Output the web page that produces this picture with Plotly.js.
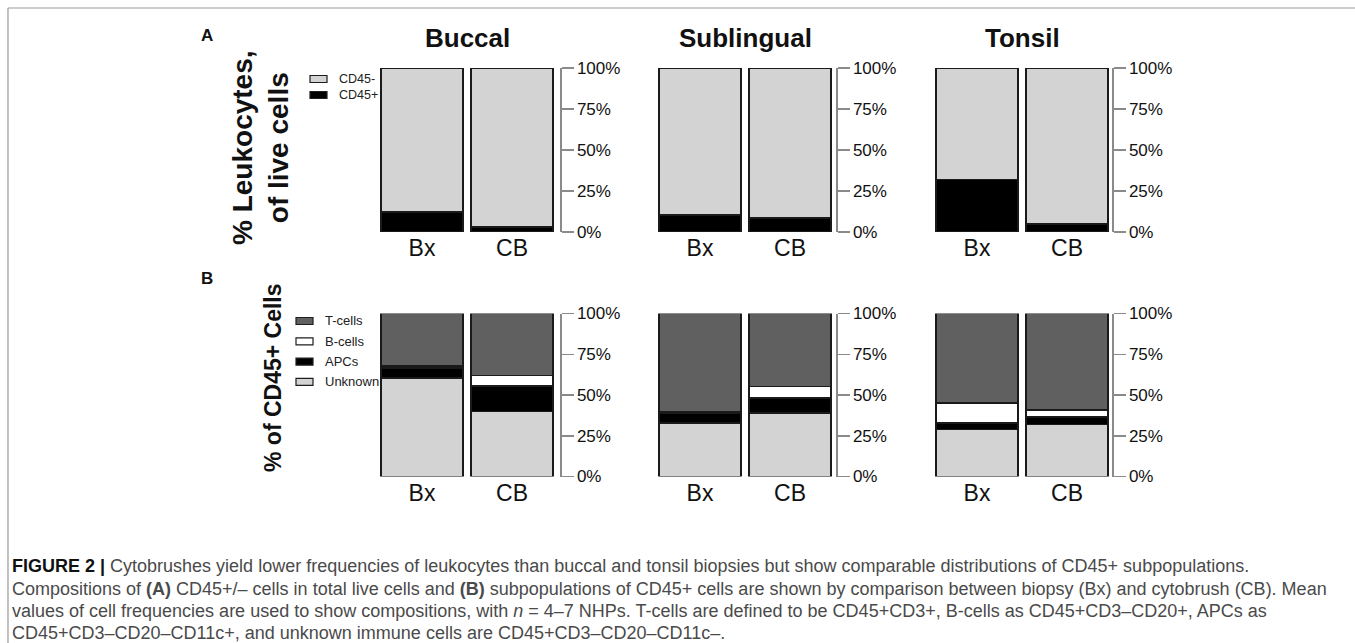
<!DOCTYPE html>
<html>
<head>
<meta charset="utf-8">
<script src="https://cdn.plot.ly/plotly-3.0.1.min.js"></script>
<style>
  html, body { margin: 0; padding: 0; background: #fff; }
  #chart { width: 1355px; height: 643px; }
</style>
</head>
<body>
<div id="chart"></div>
<script>
// ---------- data ----------
const tissues = ['Buccal', 'Sublingual', 'Tonsil'];
const sites = ['Bx', 'CB'];
const tickVals = [0, 25, 50, 75, 100];
const tickLabels = ['0%', '25%', '50%', '75%', '100%'];

// Panel A: % of live cells (per tissue: [Bx, CB])
const cd45Pos = [[12.2, 3.0], [10.6, 8.6], [32.0, 4.7]];
const cd45Neg = [[87.8, 97.0], [89.4, 91.4], [68.0, 95.3]];

// Panel B: % of CD45+ cells (per tissue: [Bx, CB])
const unknownCells = [[60.5, 39.9], [33.0, 39.1], [28.8, 31.9]];
const apcCells     = [[5.9, 15.5], [5.8, 8.9], [3.9, 4.5]];
const bCells       = [[1.3, 6.6], [1.1, 7.2], [12.5, 4.5]];
const tCells       = [[32.3, 38.0], [60.1, 44.8], [54.8, 59.1]];

const seriesA = [
  { name: 'CD45+', values: cd45Pos, color: '#000000' },
  { name: 'CD45-', values: cd45Neg, color: '#d3d3d3' }
];
const seriesB = [
  { name: 'Unknown', values: unknownCells, color: '#d3d3d3' },
  { name: 'APCs', values: apcCells, color: '#000000' },
  { name: 'B-cells', values: bCells, color: '#ffffff' },
  { name: 'T-cells', values: tCells, color: '#606060' }
];

// ---------- layout geometry (pixels) ----------
const W = 1355, H = 643;
const centers = [467, 745, 1022];
const axisOffset = [93, 91, 90];
const halfW = 90;
const rowsPx = [[68, 232], [313.5, 476.5]]; // top, bottom
const px = x => x / W;
const py = y => (H - y) / H;
const FONT = 'Liberation Sans, Arial, Helvetica, sans-serif';

const traces = [];
const layout = {
  width: W, height: H,
  margin: { l: 0, r: 0, t: 0, b: 0 },
  paper_bgcolor: '#ffffff',
  plot_bgcolor: 'rgba(0,0,0,0)',
  barmode: 'stack',
  showlegend: false,
  font: { family: FONT, color: '#111' },
  annotations: [],
  shapes: []
};

const rowSeries = [seriesA, seriesB];
let k = 0;
for (let r = 0; r < 2; r++) {
  for (let t = 0; t < 3; t++) {
    k++;
    const xa = k === 1 ? 'x' : 'x' + k;
    const ya = k === 1 ? 'y' : 'y' + k;
    const xKey = k === 1 ? 'xaxis' : 'xaxis' + k;
    const yKey = k === 1 ? 'yaxis' : 'yaxis' + k;
    rowSeries[r].forEach(s => {
      traces.push({
        type: 'bar', x: sites, y: s.values[t], name: s.name,
        xaxis: xa, yaxis: ya, width: 0.91,
        marker: { color: s.color, line: { color: '#1a1a1a', width: 1.8 } },
        hoverinfo: 'x+y+name'
      });
    });
    layout[xKey] = {
      domain: [px(centers[t] - halfW), px(centers[t] + halfW)],
      anchor: ya, range: [-0.5, 1.5], type: 'category',
      showline: false, showgrid: false, zeroline: false, ticks: '',
      tickfont: { size: 23, color: '#111', family: FONT },
      fixedrange: true
    };
    layout[yKey] = {
      domain: [py(rowsPx[r][1]), py(rowsPx[r][0])],
      anchor: 'free',
      position: px(centers[t] + axisOffset[t]), side: 'right',
      range: [0, 100], tickvals: tickVals, ticktext: tickLabels,
      showline: true, linecolor: '#8a8a8a', linewidth: 1.5,
      ticks: 'outside', ticklen: 12, tickwidth: 1.5, tickcolor: '#8a8a8a',
      showgrid: false, zeroline: false,
      tickfont: { size: 17, color: '#111', family: FONT },
      fixedrange: true
    };
  }
}

// panel column titles
tissues.forEach((name, i) => {
  layout.annotations.push({
    text: '<b>' + name + '</b>', xref: 'paper', yref: 'paper',
    x: px(centers[i]), y: py(38), xanchor: 'center', yanchor: 'middle',
    showarrow: false, font: { size: 26, color: '#111' }
  });
});

// panel letters
[['A', 35], ['B', 278]].forEach(([L, y]) => {
  layout.annotations.push({
    text: '<b>' + L + '</b>', xref: 'paper', yref: 'paper',
    x: px(207), y: py(y), xanchor: 'center', yanchor: 'middle',
    showarrow: false, font: { size: 17, color: '#111' }
  });
});

// rotated y titles
layout.annotations.push({
  text: '<b>% Leukocytes,<br>of live cells</b>', xref: 'paper', yref: 'paper',
  x: px(260), y: py(148), xanchor: 'center', yanchor: 'middle', textangle: -90,
  showarrow: false, font: { size: 28, color: '#111' }
});
layout.annotations.push({
  text: '<b>% of CD45+ Cells</b>', xref: 'paper', yref: 'paper',
  x: px(273), y: py(378), xanchor: 'center', yanchor: 'middle', textangle: -90,
  showarrow: false, font: { size: 23, color: '#111' }
});

// legends (top entry first, as in the figure)
function addLegend(series, x0, yTop, step, fs) {
  series.slice().reverse().forEach((s, i) => {
    const yc = yTop + i * step;
    layout.shapes.push({
      type: 'rect', xref: 'paper', yref: 'paper',
      x0: px(x0), x1: px(x0 + 17), y0: py(yc + 3.5), y1: py(yc - 3.5),
      fillcolor: s.color, line: { color: '#1e1e1e', width: 1.2 }
    });
    layout.annotations.push({
      text: s.name, xref: 'paper', yref: 'paper',
      x: px(x0 + 27), y: py(yc), xanchor: 'left', yanchor: 'middle',
      showarrow: false, font: { size: fs, color: '#222' }
    });
  });
}
addLegend(seriesA, 310, 79, 16, 12.5);
addLegend(seriesB, 296, 321, 20.3, 13);

// figure frame (top & left)
layout.shapes.push({ type: 'line', xref: 'paper', yref: 'paper', x0: px(8), x1: px(1355), y0: py(8), y1: py(8), line: { color: '#9a9a9a', width: 1.2 } });
layout.shapes.push({ type: 'line', xref: 'paper', yref: 'paper', x0: px(8), x1: px(8), y0: py(8), y1: py(643), line: { color: '#9a9a9a', width: 1.2 } });

// caption
const captionLines = [
  '<b><span style="color:#111">FIGURE 2 |</span></b> Cytobrushes yield lower frequencies of leukocytes than buccal and tonsil biopsies but show comparable distributions of CD45+ subpopulations.',
  'Compositions of <b>(A)</b> CD45+/– cells in total live cells and <b>(B)</b> subpopulations of CD45+ cells are shown by comparison between biopsy (Bx) and cytobrush (CB). Mean',
  'values of cell frequencies are used to show compositions, with <i>n</i> = 4–7 NHPs. T-cells are defined to be CD45+CD3+, B-cells as CD45+CD3–CD20+, APCs as',
  'CD45+CD3–CD20–CD11c+, and unknown immune cells are CD45+CD3–CD20–CD11c–.'
];
const captionY = [566, 589, 611, 633];
captionLines.forEach((txt, i) => {
  layout.annotations.push({
    text: txt, xref: 'paper', yref: 'paper',
    x: px(10), y: py(captionY[i]), xanchor: 'left', yanchor: 'middle',
    showarrow: false,
    font: { size: 18, color: '#4a4a4a', family: FONT }
  });
});

Plotly.newPlot('chart', traces, layout, { displayModeBar: false, staticPlot: true });
</script>
</body>
</html>
